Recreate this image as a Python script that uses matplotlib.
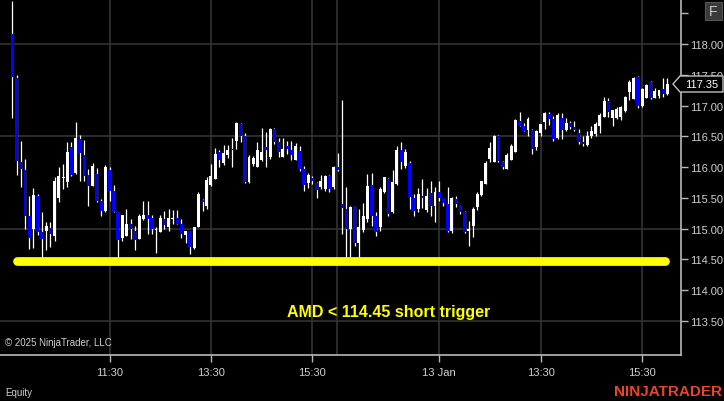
import matplotlib.pyplot as plt
from matplotlib.patches import Polygon, Rectangle

# 5-minute bars, two sessions (9:35 .. 16:00), 78 bars each
opens = [
    118.16, 117.45, 116.08, 115.95, 115.21, 115.00, 115.53, 114.95, 114.97, 115.01,
    114.88, 115.50, 115.82, 115.76, 116.33, 115.90, 116.46, 116.20, 115.87, 115.70,
    115.89, 115.45, 115.28, 115.95, 115.61, 115.27, 114.85, 114.88, 115.08, 114.97,
    114.84, 115.15, 115.23, 115.17, 114.98, 114.95, 115.16, 115.03, 115.15, 115.18,
    115.08, 114.90, 114.97, 114.69, 115.03, 115.47, 115.37, 115.71, 115.81, 116.25,
    116.07, 116.20, 116.30, 116.43, 116.70, 116.50, 115.76, 116.05, 116.00, 116.12,
    116.32, 116.17, 116.62, 116.40, 116.17, 116.35, 116.27, 116.12, 116.26, 115.97,
    115.74, 115.82, 115.75, 115.68, 115.65, 115.85, 115.67, 116.00,
    115.40, 115.32, 114.99, 115.37, 114.76, 114.98, 115.16, 115.71, 115.20, 115.02,
    115.60, 115.81, 115.27, 115.73, 116.28, 116.02, 116.07, 115.50, 115.32, 115.53,
    115.30, 115.58, 115.37, 115.59, 115.50, 115.40, 114.96, 115.48, 115.39, 115.27,
    114.97, 115.05, 115.35, 115.54, 115.73, 116.13, 116.08, 116.50, 116.08, 115.97,
    116.12, 116.25, 116.75, 116.67, 116.60, 116.60, 116.32, 116.55, 116.74, 116.87,
    116.78, 116.47, 116.80, 116.60, 116.72, 116.65, 116.56, 116.40, 116.36, 116.50,
    116.53, 116.67, 116.82, 117.07, 116.80, 116.80, 116.82, 116.91, 117.22, 117.11,
    117.46, 117.00, 117.13, 117.38, 117.13, 117.15, 117.27, 117.18,
]
highs = [
    118.70, 117.50, 116.43, 116.13, 115.53, 115.66, 115.57, 115.27, 115.11, 115.11,
    115.84, 116.00, 116.05, 116.41, 116.40, 116.73, 116.52, 116.44, 115.97, 116.07,
    115.99, 115.48, 116.04, 116.00, 115.71, 115.27, 115.23, 115.32, 115.16, 115.05,
    115.24, 115.45, 115.45, 115.22, 115.03, 115.23, 115.28, 115.32, 115.30, 115.30,
    115.16, 114.97, 114.97, 115.03, 115.59, 115.48, 115.84, 116.05, 116.31, 116.28,
    116.36, 116.36, 116.47, 116.73, 116.72, 116.55, 116.20, 116.18, 116.40, 116.63,
    116.57, 116.63, 116.63, 116.47, 116.48, 116.43, 116.42, 116.39, 116.34, 116.02,
    115.90, 115.86, 115.76, 115.88, 115.87, 115.87, 116.02, 116.23,
    117.09, 115.68, 115.37, 115.37, 115.32, 115.41, 115.89, 115.90, 115.27, 115.67,
    115.84, 115.83, 115.95, 116.35, 116.41, 116.29, 116.10, 115.57, 115.66, 115.81,
    115.66, 115.78, 115.68, 115.78, 115.50, 115.68, 115.52, 115.53, 115.39, 115.28,
    115.13, 115.35, 115.60, 115.78, 116.10, 116.41, 116.52, 116.52, 116.10, 116.23,
    116.38, 116.78, 116.90, 116.72, 116.82, 116.62, 116.60, 116.70, 116.90, 116.90,
    116.83, 116.88, 116.88, 116.80, 116.75, 116.75, 116.62, 116.50, 116.58, 116.67,
    116.74, 116.88, 117.14, 117.12, 116.93, 116.98, 117.00, 117.16, 117.42, 117.47,
    117.48, 117.29, 117.35, 117.40, 117.28, 117.25, 117.45, 117.45,
]
lows = [
    116.80, 115.87, 115.68, 115.00, 114.67, 114.69, 114.90, 114.54, 114.66, 114.70,
    114.80, 115.44, 115.64, 115.68, 115.85, 115.89, 115.78, 115.78, 115.37, 115.69,
    115.44, 115.20, 115.27, 115.45, 115.27, 114.54, 114.80, 114.88, 114.83, 114.66,
    114.84, 115.14, 114.92, 114.92, 114.60, 114.94, 115.00, 114.96, 115.08, 115.07,
    114.85, 114.77, 114.59, 114.67, 115.02, 115.29, 115.32, 115.69, 115.81, 116.00,
    116.03, 116.15, 116.00, 116.30, 116.41, 115.74, 115.74, 116.02, 116.00, 116.10,
    116.00, 116.13, 116.38, 116.17, 116.16, 116.22, 116.12, 116.12, 115.94, 115.61,
    115.66, 115.72, 115.50, 115.64, 115.62, 115.60, 115.64, 115.94,
    114.91, 114.54, 114.54, 114.72, 114.54, 114.95, 115.11, 115.05, 114.88, 114.97,
    115.58, 115.20, 115.25, 115.71, 115.97, 115.98, 115.32, 115.21, 115.27, 115.33,
    115.27, 115.20, 115.11, 115.45, 115.37, 114.95, 114.93, 115.35, 115.24, 114.93,
    114.72, 114.87, 115.30, 115.53, 115.72, 116.08, 116.08, 116.08, 115.97, 115.97,
    116.12, 116.25, 116.67, 116.59, 116.50, 116.21, 116.28, 116.50, 116.62, 116.68,
    116.43, 116.45, 116.45, 116.59, 116.62, 116.58, 116.37, 116.35, 116.34, 116.48,
    116.51, 116.55, 116.82, 116.82, 116.67, 116.78, 116.76, 116.90, 117.09, 117.10,
    116.96, 116.98, 117.12, 117.10, 117.12, 117.12, 117.14, 117.17,
]
closes = [
    117.46, 116.10, 115.97, 115.21, 114.85, 115.55, 114.95, 114.84, 115.05, 114.91,
    115.78, 115.85, 115.84, 116.25, 115.87, 116.47, 116.23, 115.86, 115.69, 116.02,
    115.45, 115.28, 116.01, 115.61, 115.27, 114.82, 115.22, 115.08, 115.00, 114.82,
    115.20, 115.22, 115.16, 115.00, 115.00, 115.17, 115.06, 115.18, 115.17, 115.08,
    114.92, 114.97, 114.70, 115.03, 115.57, 115.44, 115.79, 115.86, 116.21, 116.12,
    116.23, 116.28, 116.27, 116.72, 116.50, 115.76, 116.17, 116.15, 116.27, 116.25,
    116.28, 116.62, 116.40, 116.25, 116.30, 116.29, 116.20, 116.35, 115.97, 115.71,
    115.87, 115.77, 115.63, 115.78, 115.85, 115.65, 116.00, 115.95,
    115.33, 114.99, 115.35, 114.77, 115.03, 115.21, 115.70, 115.21, 114.95, 115.64,
    115.84, 115.24, 115.76, 116.28, 116.08, 116.25, 115.51, 115.29, 115.57, 115.50,
    115.53, 115.37, 115.60, 115.50, 115.42, 114.96, 115.50, 115.40, 115.27, 114.95,
    115.00, 115.32, 115.57, 115.77, 116.07, 116.31, 116.50, 116.10, 116.00, 116.20,
    116.34, 116.77, 116.67, 116.59, 116.78, 116.30, 116.58, 116.70, 116.88, 116.78,
    116.45, 116.85, 116.60, 116.72, 116.65, 116.60, 116.40, 116.37, 116.50, 116.58,
    116.70, 116.85, 117.07, 116.90, 116.92, 116.95, 116.98, 117.14, 117.38, 117.45,
    116.99, 117.27, 117.33, 117.12, 117.23, 117.25, 117.19, 117.35,
]

time_tick_pos = [23, 47, 71, 101, 125, 149]
time_tick_labels = ['11:30', '13:30', '15:30', '13 Jan', '13:30', '15:30']
session_break = 76.9
price_ticks = [113.5, 114.0, 114.5, 115.0, 115.5, 116.0, 116.5, 117.0, 117.5, 118.0, 118.5]
grid_prices = [113.5, 115.0, 116.5, 118.0]
trigger_price = 114.48
last_price = 117.35

W, H = 724, 402
fig = plt.figure(figsize=(W / 100, H / 100), dpi=100, facecolor='black')
ax = fig.add_axes([0, 1 - 356 / H, 681 / W, 356 / H], facecolor='black')

font = 'Liberation Sans'
narrow = ['Liberation Sans Narrow', 'Liberation Sans', 'DejaVu Sans']
txt_col = '#d0d0d0'
axis_col = '#b8b8b8'
grid_col = '#333333'

# grid
for p in grid_prices:
    ax.axhline(p, color=grid_col, lw=1.2, zorder=0)
for x in time_tick_pos + [session_break]:
    ax.axvline(x, color=grid_col, lw=1.2, zorder=0)

# candles
idx = list(range(len(opens)))
ax.vlines(idx, lows, highs, color='white', lw=0.9, zorder=2)
for i in idx:
    o, c = opens[i], closes[i]
    col = 'white' if c >= o else '#0000ff'
    bottom = min(o, c)
    height = max(abs(c - o), 0.02)
    ax.bar(i, height, bottom=bottom, width=0.7, color=col, linewidth=0, zorder=3)

# trigger line
ax.plot([1.0, 154.5], [trigger_price, trigger_price], color='#ffff00', lw=6.3,
        solid_capstyle='round', zorder=4)
ax.text(89, 113.66, 'AMD < 114.45 short trigger', color='#ffff00', fontsize=11.5,
        fontweight='bold', family=narrow, ha='center', va='center', zorder=5)

ax.set_xlim(-2.91, 158.2)
ax.set_ylim(112.948, 118.731)

for s in ['top', 'left']:
    ax.spines[s].set_visible(False)
for s in ['right', 'bottom']:
    ax.spines[s].set_color(axis_col)
    ax.spines[s].set_linewidth(1.2)

ax.yaxis.tick_right()
ax.set_yticks(price_ticks)
ax.set_yticklabels(['%.2f' % p if p != 118.5 else '' for p in price_ticks])
ax.set_xticks(time_tick_pos)
ax.set_xticklabels(time_tick_labels)
ax.tick_params(axis='both', colors=axis_col, labelcolor=txt_col, length=5, width=1,
               labelsize=8)
ax.tick_params(axis='y', pad=1.5)
ax.tick_params(axis='x', pad=4)
for lab in ax.get_xticklabels() + ax.get_yticklabels():
    lab.set_family(font)

# last price marker
y_last = 1 - (356 / H) * (1 - (last_price - 112.948) / (118.731 - 112.948))
h = 8 / H
pts = [(673 / W, y_last), (680 / W, y_last + h), (723 / W, y_last + h),
       (723 / W, y_last - h), (680 / W, y_last - h)]
fig.patches.append(Polygon(pts, closed=True, transform=fig.transFigure,
                           facecolor='black', edgecolor='#c0c0c0', lw=1, zorder=10))
fig.text(702 / W, y_last, '%.2f' % last_price, color='white', fontsize=8, family=font,
         ha='center', va='center', zorder=11)

# F button
fig.patches.append(Rectangle((705 / W, 1 - 21 / H), 17 / W, 18 / H, transform=fig.transFigure,
                             facecolor='#3a3a3a', edgecolor='#555555', lw=0.8))
fig.text(713.5 / W, 1 - 12 / H, 'F', color='#c8c8c8', fontsize=10, family=font,
         ha='center', va='center')

fig.text(5 / W, 1 - 343 / H, '\u00a9 2025 NinjaTrader, LLC', color=txt_col, fontsize=7,
         family=narrow, va='center')
fig.text(5 / W, 1 - 393 / H, 'Equity', color=txt_col, fontsize=7, family=narrow, va='center')
fig.text(722 / W, 1 - 392 / H, 'NINJATRADER', color='#e8452c', fontsize=11,
         fontweight='bold', family=font, ha='right', va='center')

fig.savefig('out.png', dpi=100, facecolor='black')
